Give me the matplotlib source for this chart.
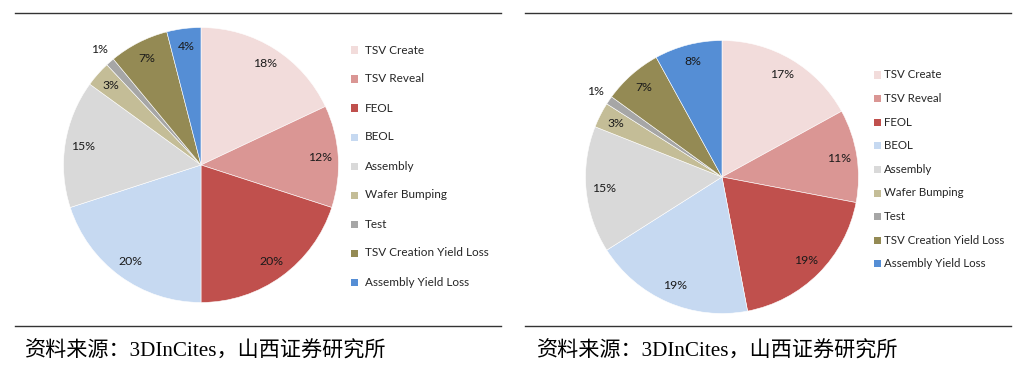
import matplotlib.pyplot as plt
import numpy as np
from matplotlib.patches import Rectangle

categories = ["TSV Create", "TSV Reveal", "FEOL", "BEOL", "Assembly",
              "Wafer Bumping", "Test", "TSV Creation Yield Loss",
              "Assembly Yield Loss"]
left_values = [18, 12, 20, 20, 15, 3, 1, 7, 4]
right_values = [17, 11, 19, 19, 15, 3, 1, 7, 8]
colors = ["#F2DCDB", "#DA9694", "#C0504D", "#C6D9F1", "#D9D9D9",
          "#C4BD97", "#A6A6A6", "#948A54", "#558ED5"]
source = "资料来源：3DInCites，山西证券研究所"

W, H = 1033, 370
fig = plt.figure(figsize=(W / 100, H / 100), dpi=100)
fig.patch.set_facecolor("white")

label_font = ["Lato", "DejaVu Sans"]
footer_font = ["Liberation Serif", "Noto Sans CJK SC"]


def px_box(cx, cy, r):
    return [(cx - r) / W, (H - cy - r) / H, 2 * r / W, 2 * r / H]


def draw_panel(values, center, radius, leg_x, leg_y0, leg_step, text_off,
               leg_fs, x0, x1, foot_x):
    ax = fig.add_axes(px_box(center[0], center[1], radius))
    wedges, _ = ax.pie(values, colors=colors, startangle=90, counterclock=False,
                       radius=1.0, wedgeprops=dict(edgecolor="white", linewidth=0.4))
    ax.set_xlim(-1, 1)
    ax.set_ylim(-1, 1)
    ax.set_aspect("auto")
    ax.axis("off")
    for w, v in zip(wedges, values):
        ang = np.deg2rad((w.theta1 + w.theta2) / 2)
        d = 1.12 if v <= 1 else 0.87
        ax.text(d * np.cos(ang), d * np.sin(ang), f"{v}%", ha="center", va="center",
                fontsize=8.8, color="#1a1a1a", family=label_font)

    # legend
    for i, (name, c) in enumerate(zip(categories, colors)):
        y = leg_y0 + i * leg_step
        fig.patches.append(Rectangle((leg_x / W, (H - y - 3.5) / H), 7 / W, 7 / H,
                                     transform=fig.transFigure, facecolor=c,
                                     edgecolor="none"))
        fig.text((leg_x + text_off) / W, (H - y) / H, name, ha="left", va="center",
                 fontsize=leg_fs, color="#262626", family=label_font)

    # rules and source
    for yy in (13, 326):
        fig.add_artist(plt.Line2D([x0 / W, x1 / W], [(H - yy) / H] * 2,
                                  transform=fig.transFigure, color="#333333",
                                  linewidth=1.0))
    fig.text(foot_x / W, (H - 352) / H, source, ha="left", va="center",
             fontsize=15.2, color="black", family=footer_font)


draw_panel(left_values, (201, 165), 137.5, 351, 50, 29, 14, 8.5, 15, 501, 25)
draw_panel(right_values, (722, 177), 136.5, 874, 75, 23.6, 10, 8.3, 525, 1011, 537)

fig.savefig("out.png", dpi=100, facecolor="white")
